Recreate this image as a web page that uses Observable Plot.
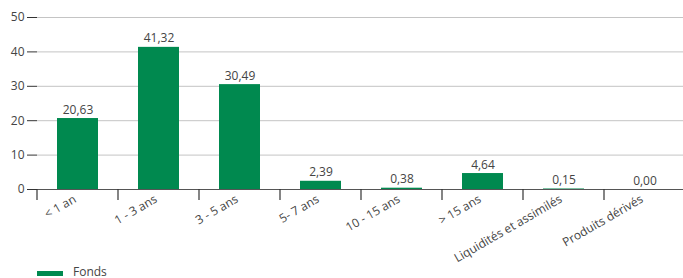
<!DOCTYPE html>
<html>
<head>
<meta charset="utf-8">
<script src="https://cdn.jsdelivr.net/npm/d3@7"></script>
<script src="https://cdn.jsdelivr.net/npm/@observablehq/plot@0.6"></script>
<style>
  body { margin: 0; background: #fff; font-family: "Open Sans", sans-serif; position: relative; }
  #legend { position: absolute; top: 264px; left: 37px; display: flex; align-items: center; font-size: 12px; color: #444; line-height: 16px; }
  #legend .sw { width: 26px; height: 5px; background: #00894f; margin-right: 10px; margin-top: 2px; }
</style>
</head>
<body>
<div id="chart"></div>
<div id="legend"><span class="sw"></span><span id="series"></span></div>
<script>
const categories = ["< 1 an", "1 - 3 ans", "3 - 5 ans", "5- 7 ans", "10 - 15 ans", "> 15 ans", "Liquidités et assimilés", "Produits dérivés"];
const values = [20.63, 41.32, 30.49, 2.39, 0.38, 4.64, 0.15, 0.00];
const yTicks = [0, 10, 20, 30, 40, 50];
const seriesName = "Fonds";

document.getElementById("series").textContent = seriesName;
const data = categories.map((c, i) => ({cat: c, value: values[i]}));
const fmt = v => v.toFixed(2).replace(".", ",");
const green = "#00894f";
const textColor = "#444";

// tick marks at band boundaries, derived from the x scale
function boundaryTicks(index, scales, values, dims) {
  const x = scales.x;
  const step = x.step ? x.step() : (x(categories[1]) - x(categories[0]));
  const bw = x.bandwidth ? x.bandwidth() : 0;
  const g = d3.create("svg:g");
  const y0 = dims.height - dims.marginBottom;
  for (const c of categories) {
    const bx = x(c) + bw / 2 - step / 2;
    g.append("line").attr("x1", bx).attr("x2", bx).attr("y1", y0).attr("y2", y0 + 11)
      .attr("stroke", "#333").attr("stroke-width", 1.2);
  }
  return g.node();
}

const plot = Plot.plot({
  width: 683,
  height: 278,
  marginLeft: 37,
  marginRight: 0,
  marginTop: 17,
  marginBottom: 89,
  style: {fontFamily: "Open Sans, sans-serif", fontSize: "12px", color: textColor, background: "transparent", overflow: "visible"},
  x: {domain: categories, range: [37, 685], paddingInner: 0.5, paddingOuter: 0.25, label: null, axis: null},
  y: {domain: [0, 50], label: null},
  marks: [
    Plot.gridY(yTicks, {stroke: "#c4c4c4", strokeOpacity: 1}),
    Plot.barY(data, {x: "cat", y: "value", fill: green}),
    Plot.text(data, {x: "cat", y: "value", text: d => fmt(d.value), lineAnchor: "bottom", dy: -5, fill: textColor, fontSize: 12}),
    Plot.ruleY([0], {stroke: "#555", strokeWidth: 1.2}),
    Plot.axisY(yTicks, {tickSize: 10, tickPadding: 3, stroke: "#333", fill: textColor, fontSize: 12, label: null}),
    Plot.ruleX([0], {x: () => null, frameAnchor: "left", stroke: "#333", strokeWidth: 1.2}),
    Plot.text(categories, {x: d => d, frameAnchor: "bottom", rotate: -30, textAnchor: "end", dy: 12, dx: -1, fill: textColor, fontSize: 12}),
    boundaryTicks
  ]
});
document.getElementById("chart").appendChild(plot);
</script>
</body>
</html>
